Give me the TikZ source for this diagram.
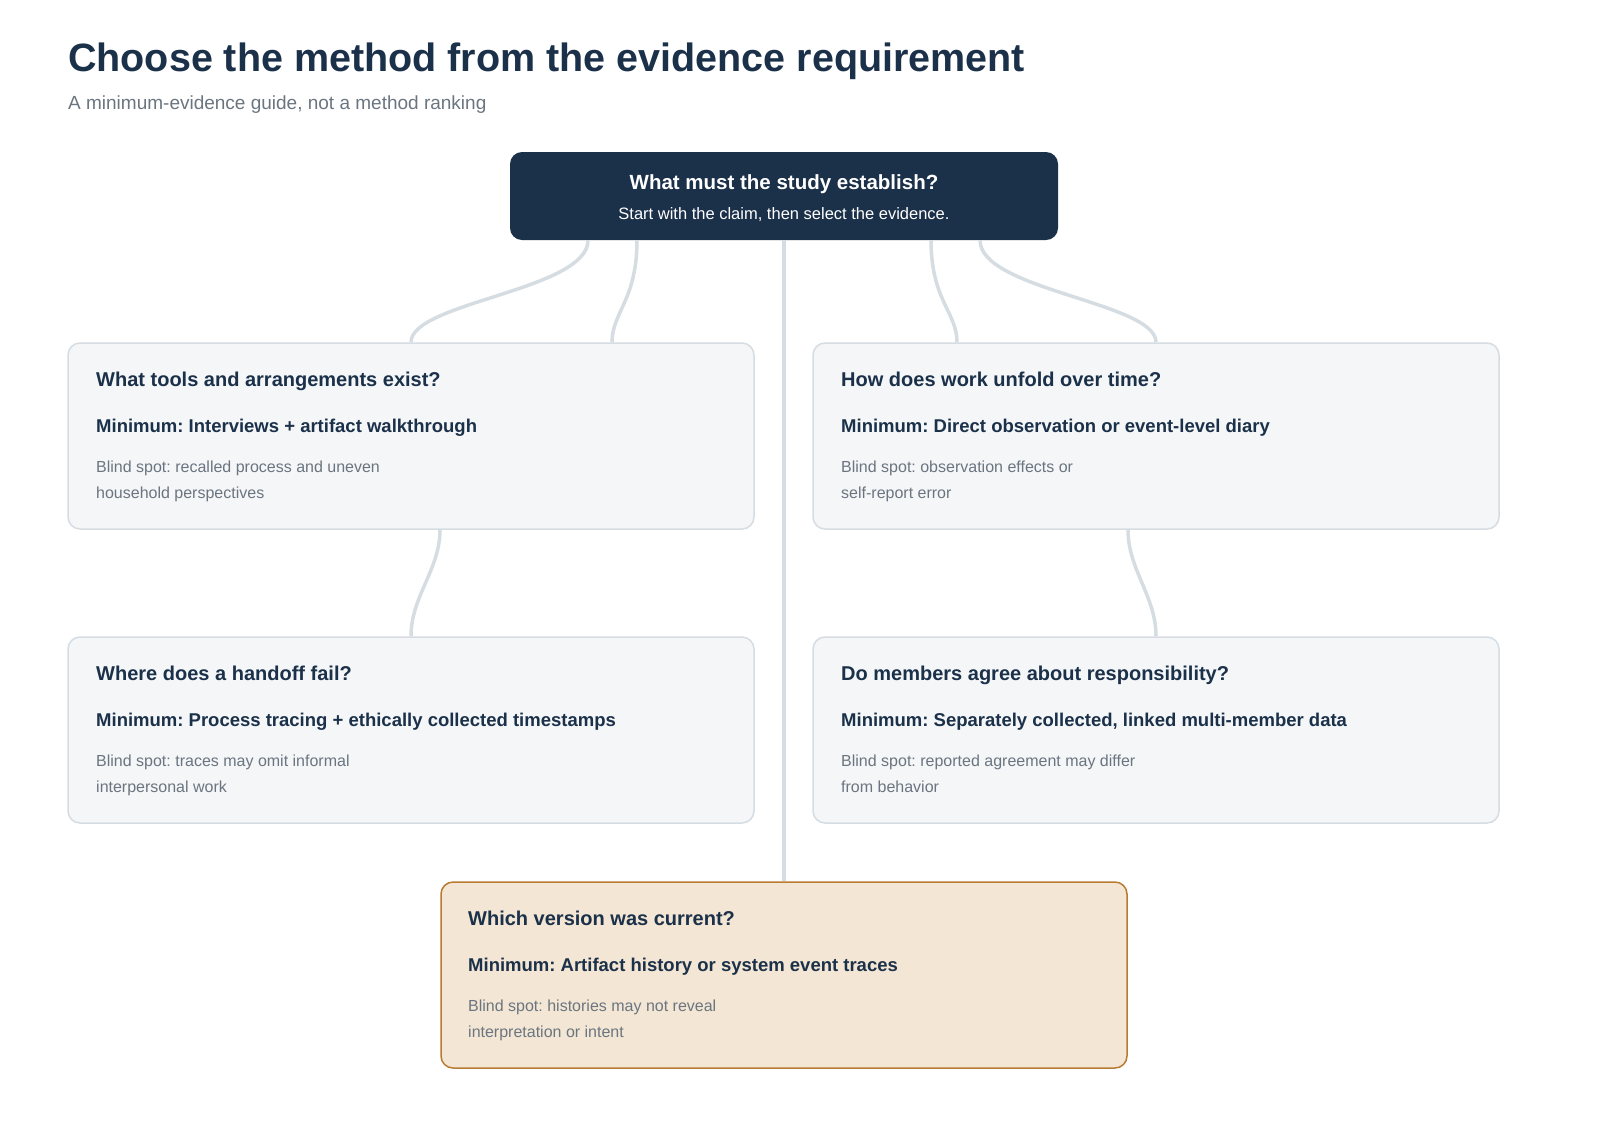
\documentclass[tikz,border=0pt]{standalone}
\usepackage{fontspec}
\setmainfont{Liberation Sans}
\frenchspacing
\definecolor{navy}{HTML}{1B3049}
\definecolor{boxfill}{HTML}{F4F6F8}
\definecolor{boxline}{HTML}{D5DCE2}
\definecolor{wire}{HTML}{D5DDE2}
\definecolor{note}{HTML}{6B7580}
\definecolor{warmfill}{HTML}{F3E6D4}
\definecolor{warmline}{HTML}{B87B32}
\begin{document}
\begin{tikzpicture}[x=1pt, y=-1pt,
    card/.style={draw=boxline, fill=boxfill, line width=1.5pt, rounded corners=12pt,
      minimum width=686pt, minimum height=186pt, inner sep=0pt},
    hot/.style={card, draw=warmline, fill=warmfill},
    head/.style={anchor=base west, inner sep=0pt, text=navy, font=\fontsize{20}{24}\selectfont\bfseries},
    need/.style={anchor=base west, inner sep=0pt, text=navy, font=\fontsize{18.5}{22}\selectfont\bfseries},
    blind/.style={anchor=north west, inner sep=0pt, text=note, align=left, font=\fontsize{16}{26}\selectfont},
    wire/.style={draw=wire, line width=3.5pt}]
    \useasboundingbox (0,0) rectangle (1600,1120);

    % title
    \node[anchor=base west, inner sep=0pt, text=navy, font=\fontsize{39.5}{44}\selectfont\bfseries] (title) at (68,71) {Choose the method from the evidence requirement};
    \node[anchor=base west, inner sep=0pt, text=note, font=\fontsize{19}{22}\selectfont] (subtitle) at (68,109) {A minimum-evidence guide, not a method ranking};

    % question
    \node[fill=navy, rounded corners=12pt, minimum width=548pt, minimum height=88pt] (top) at (784,196) {};
    \node[anchor=base, inner sep=0pt, text=white, font=\fontsize{20.5}{24}\selectfont\bfseries] (toph) at (784,189) {What must the study establish?};
    \node[anchor=base, inner sep=0pt, text=white, font=\fontsize{16.5}{20}\selectfont] (topn) at (784,219) {Start with the claim, then select the evidence.};

    % cards
    \node[card] (tools) at (411,436) {};
    \node[card] (time) at (1156,436) {};
    \node[card] (handoff) at (411,730) {};
    \node[card] (agree) at (1156,730) {};
    \node[hot] (version) at (784,975) {};

    \node[head] at (96,386) {What tools and arrangements exist?};
    \node[need] at (96,432) {Minimum: Interviews + artifact walkthrough};
    \node[blind] at (96,461) {Blind spot: recalled process and uneven\\household perspectives};

    \node[head] at (841,386) {How does work unfold over time?};
    \node[need] at (841,432) {Minimum: Direct observation or event-level diary};
    \node[blind] at (841,461) {Blind spot: observation effects or\\self-report error};

    \node[head] at (96,680) {Where does a handoff fail?};
    \node[need] at (96,726) {Minimum: Process tracing + ethically collected timestamps};
    \node[blind] at (96,755) {Blind spot: traces may omit informal\\interpersonal work};

    \node[head] at (841,680) {Do members agree about responsibility?};
    \node[need] at (841,726) {Minimum: Separately collected, linked multi-member data};
    \node[blind] at (841,755) {Blind spot: reported agreement may differ\\from behavior};

    \node[head] at (468,925) {Which version was current?};
    \node[need] at (468,971) {Minimum: Artifact history or system event traces};
    \node[blind] at (468,1000) {Blind spot: histories may not reveal\\interpretation or intent};

    % links
    \draw[wire] ([xshift=-196pt]top.south) .. controls +(0,50) and +(0,-40) .. (tools.north);
    \draw[wire] ([xshift=-147pt]top.south) .. controls +(0,60) and +(0,-30) .. ([xshift=201pt]tools.north);
    \draw[wire] (top.south) -- (version.north);
    \draw[wire] ([xshift=147pt]top.south) .. controls +(0,60) and +(0,-30) .. ([xshift=-199pt]time.north);
    \draw[wire] ([xshift=196pt]top.south) .. controls +(0,50) and +(0,-40) .. (time.north);
    \draw[wire] ([xshift=29pt]tools.south) .. controls +(0,40) and +(0,-40) .. (handoff.north);
    \draw[wire] ([xshift=-28pt]time.south) .. controls +(0,40) and +(0,-40) .. (agree.north);
\end{tikzpicture}
\end{document}
